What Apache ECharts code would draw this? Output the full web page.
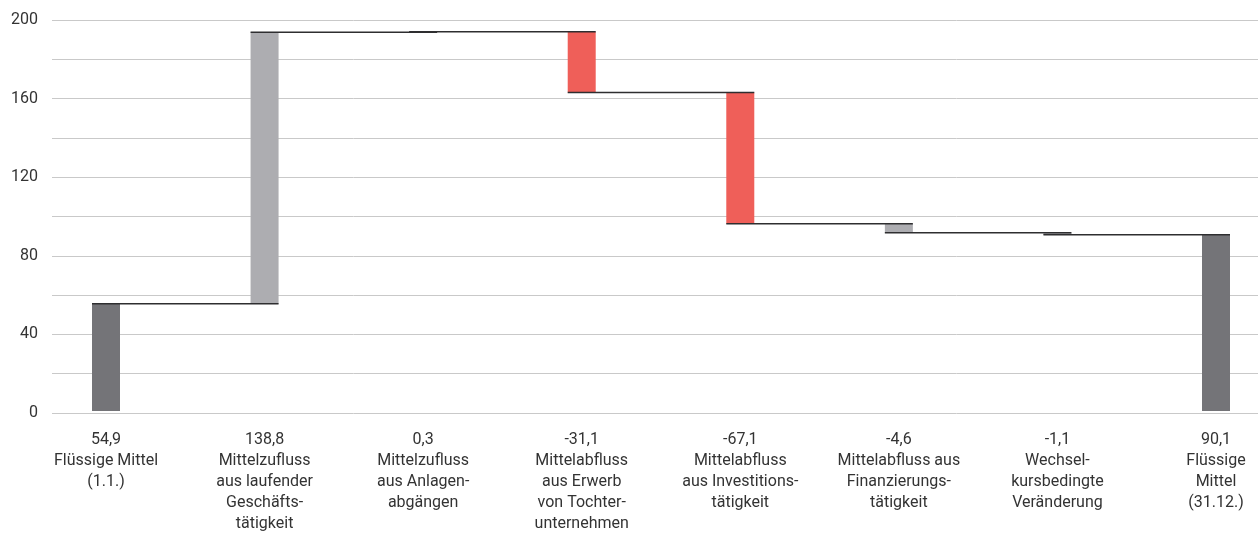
<!DOCTYPE html>
<html>
<head>
<meta charset="utf-8">
<script src="https://cdn.jsdelivr.net/npm/echarts@6/dist/echarts.min.js"></script>
<style>
  html, body { margin: 0; padding: 0; background: #ffffff; }
  #chart { width: 1258px; height: 534px; }
</style>
</head>
<body>
<div id="chart"></div>
<script>
// Cash-flow bridge (Mio. €): opening balance, movements, closing balance
const categories = [
  'Flüssige Mittel\n(1.1.)',
  'Mittelzufluss\naus laufender\nGeschäfts-\ntätigkeit',
  'Mittelzufluss\naus Anlagen-\nabgängen',
  'Mittelabfluss\naus Erwerb\nvon Tochter-\nunternehmen',
  'Mittelabfluss\naus Investitions-\ntätigkeit',
  'Mittelabfluss aus\nFinanzierungs-\ntätigkeit',
  'Wechsel-\nkursbedingte\nVeränderung',
  'Flüssige\nMittel\n(31.12.)'
];
const values = [54.9, 138.8, 0.3, -31.1, -67.1, -4.6, -1.1, 90.1];
// 'total' = bar starts at zero, 'move' = floating bar from the running balance
const kinds = ['total', 'move', 'move', 'move', 'move', 'move', 'move', 'total'];
const barColors = ['#747478', '#adadb1', '#adadb1', '#ef5f59', '#ef5f59', '#adadb1', '#adadb1', '#747478'];
const yTicks = [0, 40, 80, 120, 160, 200];

// running balance after each bar, plus floating bar bases/heights
const running = [];
const bases = [];
const heights = [];
let bal = 0;
values.forEach((v, i) => {
  if (kinds[i] === 'total') {
    bases.push(0);
    heights.push(v);
    bal = v;
  } else {
    const next = bal + v;
    bases.push(Math.min(bal, next));
    heights.push(Math.abs(v));
    bal = next;
  }
  running.push(bal);
});

const fmt = v => v.toFixed(1).replace('.', ',');
const textColor = '#333333';
const fontFamily = 'Roboto, "Noto Sans", sans-serif';

const chart = echarts.init(document.getElementById('chart'), null, { renderer: 'canvas' });
chart.setOption({
  animation: false,
  backgroundColor: '#ffffff',
  grid: [
    { left: 52, right: 0, top: 20, bottom: 121 },
    { left: 106, right: 42, top: 20, bottom: 121 }
  ],
  xAxis: [
    { type: 'category', gridIndex: 0, data: categories, show: false },
    {
      type: 'category', gridIndex: 1, data: categories, boundaryGap: false,
      axisLine: { show: false }, axisTick: { show: false },
      axisLabel: {
        interval: 0, margin: 18, color: textColor, fontFamily, fontSize: 16, lineHeight: 21,
        align: 'center',
        formatter: (val, idx) => fmt(values[idx]) + '\n' + val
      }
    }
  ],
  yAxis: [
    {
      type: 'value', gridIndex: 0, min: 0, max: 200, interval: 20,
      axisLine: { show: false }, axisTick: { show: false },
      axisLabel: {
        color: textColor, fontFamily, fontSize: 16, margin: 14,
        formatter: v => (yTicks.indexOf(v) >= 0 ? String(v) : '')
      },
      splitLine: { show: true, lineStyle: { color: '#c9c9c9', width: 1 } }
    },
    { type: 'value', gridIndex: 1, min: 0, max: 200, show: false }
  ],
  series: [
    {
      type: 'bar', xAxisIndex: 1, yAxisIndex: 1, stack: 'wf', barWidth: 28,
      itemStyle: { color: 'transparent' }, data: bases, silent: true
    },
    {
      type: 'bar', xAxisIndex: 1, yAxisIndex: 1, stack: 'wf', barWidth: 28,
      data: heights.map((h, i) => ({ value: h, itemStyle: { color: barColors[i] } }))
    },
    {
      // connector from each bar's balance to the following bar
      type: 'custom', xAxisIndex: 1, yAxisIndex: 1, z: 5,
      data: running.slice(0, -1).map((b, i) => [i, b]),
      renderItem: (params, api) => {
        const i = api.value(0);
        const b = api.value(1);
        const p0 = api.coord([i, b]);
        const p1 = api.coord([i + 1, b]);
        return {
          type: 'line',
          shape: { x1: p0[0] - 14, y1: p0[1], x2: p1[0] + 14, y2: p1[1] },
          style: { stroke: '#2e2e30', lineWidth: 1.5 }
        };
      }
    }
  ]
});
</script>
</body>
</html>
